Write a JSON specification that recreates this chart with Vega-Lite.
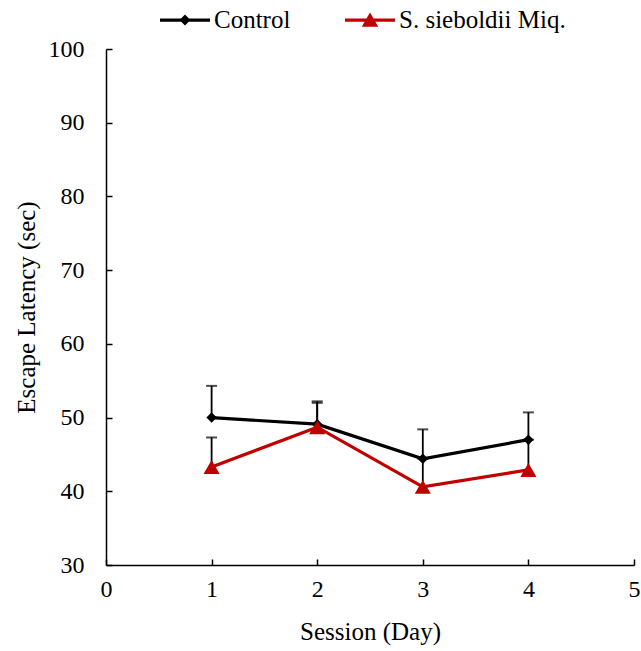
{
  "$schema": "https://vega.github.io/schema/vega-lite/v6.json",
  "width": 528,
  "height": 516,
  "autosize": {"type": "none"},
  "padding": {"left": 106, "top": 49, "right": 7, "bottom": 86},
  "background": "white",
  "config": {
    "view": {"stroke": null},
    "font": "Liberation Serif",
    "axis": {
      "grid": false,
      "domainColor": "black",
      "domainWidth": 1.5,
      "tickColor": "black",
      "tickWidth": 1.5,
      "tickSize": -6,
      "labelFont": "Liberation Serif",
      "labelFontSize": 24,
      "labelColor": "black",
      "titleFont": "Liberation Serif",
      "titleFontSize": 25,
      "titleFontWeight": "normal",
      "titleColor": "black"
    }
  },
  "data": {
    "values": [
      {"day": 1, "group": "Control", "mean": 50.0, "top": 54.3},
      {"day": 2, "group": "Control", "mean": 49.1, "top": 52.2},
      {"day": 3, "group": "Control", "mean": 44.4, "top": 48.4},
      {"day": 4, "group": "Control", "mean": 47.0, "top": 50.7},
      {"day": 1, "group": "S. sieboldii Miq.", "mean": 43.3, "top": 47.3},
      {"day": 2, "group": "S. sieboldii Miq.", "mean": 48.7, "top": 52.0},
      {"day": 3, "group": "S. sieboldii Miq.", "mean": 40.6, "top": 44.4},
      {"day": 4, "group": "S. sieboldii Miq.", "mean": 42.9, "top": 47.0}
    ]
  },
  "encoding": {
    "x": {
      "field": "day", "type": "quantitative",
      "scale": {"domain": [0, 5], "nice": false, "zero": false},
      "axis": {"values": [0, 1, 2, 3, 4, 5], "title": "Session (Day)", "labelPadding": 18, "titlePadding": 18, "labelFlush": false}
    },
    "y": {
      "field": "mean", "type": "quantitative",
      "scale": {"domain": [30, 100], "nice": false, "zero": false},
      "axis": {"values": [30, 40, 50, 60, 70, 80, 90, 100], "title": "Escape Latency (sec)", "labelPadding": 28, "titlePadding": 9}
    }
  },
  "layer": [
    {
      "mark": {"type": "rule", "color": "black", "strokeWidth": 1.8},
      "encoding": {"y2": {"field": "top"}}
    },
    {
      "mark": {"type": "tick", "color": "black", "orient": "horizontal", "size": 11, "thickness": 2},
      "encoding": {"y": {"field": "top", "type": "quantitative"}}
    },
    {
      "mark": {"type": "line", "strokeWidth": 3.2},
      "encoding": {
        "color": {
          "field": "group", "type": "nominal",
          "scale": {"domain": ["Control", "S. sieboldii Miq."], "range": ["black", "#C00000"]},
          "legend": {
            "title": null,
            "orient": "none",
            "direction": "horizontal",
            "legendX": 54,
            "legendY": -54,
            "symbolSize": 2500,
            "symbolStrokeWidth": 0,
            "labelFont": "Liberation Serif",
            "labelFontSize": 25,
            "labelColor": "black",
            "labelOffset": 4,
            "labelLimit": 400,
            "columnPadding": 54,
            "padding": 0,
            "encode": {
              "symbols": {
                "update": {
                  "shape": {"signal": "datum.value === 'Control' ? 'M-1,-0.065L1,-0.065L1,0.065L-1,0.065ZM0,-0.22L0.22,0L0,0.22L-0.22,0Z' : 'M-1,-0.065L1,-0.065L1,0.065L-1,0.065ZM0,-0.3L0.33,0.27L-0.33,0.27Z'"},
                  "fill": {"signal": "datum.value === 'Control' ? 'black' : '#C00000'"},
                  "fillOpacity": {"value": 1},
                  "opacity": {"value": 1}
                }
              }
            }
          }
        },
        "detail": {"field": "group"}
      }
    },
    {
      "transform": [{"filter": "datum.group === 'Control'"}],
      "mark": {"type": "point", "filled": true, "opacity": 1, "shape": "diamond", "size": 110, "color": "black"}
    },
    {
      "transform": [{"filter": "datum.group === 'S. sieboldii Miq.'"}],
      "mark": {"type": "point", "filled": true, "opacity": 1, "shape": "triangle-up", "size": 260, "color": "#C00000"}
    }
  ]
}
